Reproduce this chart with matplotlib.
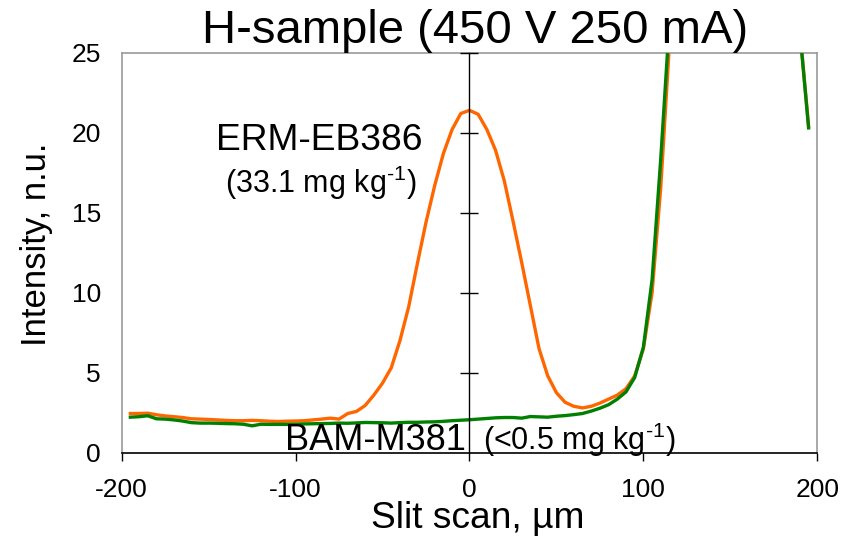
import matplotlib
matplotlib.use("Agg")
import matplotlib.pyplot as plt

plt.rcParams['font.family'] = ['Liberation Sans', 'DejaVu Sans']
plt.rcParams['mathtext.fontset'] = 'custom'
plt.rcParams['mathtext.rm'] = 'Liberation Sans'
plt.rcParams['axes.unicode_minus'] = False

# slit position, um
x = [-195, -190, -185, -180, -175, -170, -165, -160, -155, -150,
     -145, -140, -135, -130, -125, -120, -115, -110, -105, -100,
     -95, -90, -85, -80, -75, -70, -65, -60, -55, -50,
     -45, -40, -35, -30, -25, -20, -15, -10, -5, 0,
     5, 10, 15, 20, 25, 30, 35, 40, 45, 50,
     55, 60, 65, 70, 75, 80, 85, 90, 95, 100,
     105, 110, 115, 120, 125, 130, 135, 140, 145, 150,
     155, 160, 165, 170, 175, 180, 185, 190, 195]

# ERM-EB386 (33.1 mg/kg)
erm = [2.45, 2.45, 2.47, 2.37, 2.30, 2.25, 2.20, 2.12, 2.10, 2.08,
       2.05, 2.02, 2.00, 2.00, 2.02, 2.00, 1.97, 1.95, 1.97, 1.98,
       2.00, 2.05, 2.10, 2.16, 2.10, 2.45, 2.58, 2.95, 3.60, 4.35,
       5.30, 7.00, 9.10, 11.8, 14.4, 16.7, 18.7, 20.2, 21.2, 21.4,
       21.15, 20.2, 18.9, 17.0, 14.5, 11.9, 9.2, 6.5, 4.8, 3.75,
       3.15, 2.90, 2.80, 2.90, 3.10, 3.35, 3.60, 4.00, 4.80, 6.50,
       10.0, 16.6, 25.6, 35.0, 45.0, 54.0, 61.0, 66.0, 69.0, 70.0,
       68.0, 64.0, 58.0, 50.0, 42.0, 34.0, 30.0, 26.4, 20.4]

# BAM-M381 (<0.5 mg/kg)
bam = [2.22, 2.25, 2.31, 2.12, 2.10, 2.05, 1.98, 1.88, 1.85, 1.85,
       1.84, 1.82, 1.81, 1.78, 1.68, 1.78, 1.77, 1.77, 1.77, 1.78,
       1.80, 1.81, 1.82, 1.83, 1.85, 1.84, 1.86, 1.89, 1.88, 1.87,
       1.85, 1.88, 1.90, 1.90, 1.92, 1.93, 1.96, 2.00, 2.03, 2.06,
       2.10, 2.14, 2.18, 2.20, 2.20, 2.16, 2.26, 2.24, 2.22, 2.28,
       2.32, 2.38, 2.45, 2.60, 2.78, 3.00, 3.35, 3.80, 4.70, 6.60,
       10.8, 18.4, 27.0, 36.0, 46.0, 55.0, 62.0, 67.0, 70.0, 71.0,
       69.0, 65.0, 59.0, 51.0, 43.0, 35.0, 30.5, 26.3, 20.3]

fig = plt.figure(figsize=(8.55, 5.39), dpi=100)
ax = fig.add_axes([0.1423, 0.1601, 0.8136, 0.7421])

ax.plot(x, erm, color='#ff6600', lw=2.4, zorder=2)
ax.plot(x, bam, color='#008000', lw=2.4, zorder=3)

ax.set_xlim(-200, 200)
ax.set_ylim(0, 25)
ax.set_xticks([-200, -100, 0, 100, 200])
ax.set_yticks([0, 5, 10, 15, 20, 25])
ax.tick_params(axis='x', direction='out', length=6, width=1, pad=12, labelsize=19)
ax.tick_params(axis='y', length=0, pad=15, labelsize=19)

for s in ['left', 'top', 'right']:
    ax.spines[s].set_color('#999999')
    ax.spines[s].set_linewidth(1.2)
ax.spines['bottom'].set_color('black')
ax.spines['bottom'].set_linewidth(1.2)

# y axis drawn through x = 0
ax2 = ax.twinx()
ax2.set_ylim(0, 25)
ax2.set_yticks([5, 10, 15, 20, 25])
ax2.yaxis.set_ticks_position('left')
ax2.spines['left'].set_position(('data', 0))
ax2.spines['left'].set_color('black')
ax2.spines['left'].set_linewidth(1.0)
for s in ['top', 'right', 'bottom']:
    ax2.spines[s].set_visible(False)
ax2.tick_params(axis='y', direction='inout', length=13, width=1,
                labelleft=False, labelright=False)

ax.set_title('H-sample (450 V 250 mA)', fontsize=34, pad=5, x=0.508)
ax.set_xlabel('Slit scan, µm', fontsize=26.7)
ax.xaxis.set_label_coords(0.512, -0.12)
ax.set_ylabel('Intensity, n.u.', fontsize=25)
ax.yaxis.set_label_coords(-0.098, 0.522)

ax.text(-26.8, 18.9, 'ERM-EB386', fontsize=26.8, ha='right', va='baseline')
ax.text(-30.6, 16.25, '(33.1 mg kg$^{\\text{-1}}$)', fontsize=22,
        ha='right', va='baseline')
ax.text(-2, 0.2, 'BAM-M381', fontsize=26, ha='right', va='baseline')
ax.text(7.9, 0.2, '(<0.5 mg kg$^{\\text{-1}}$)', fontsize=22,
        ha='left', va='baseline')

fig.savefig('out.png', dpi=100)
